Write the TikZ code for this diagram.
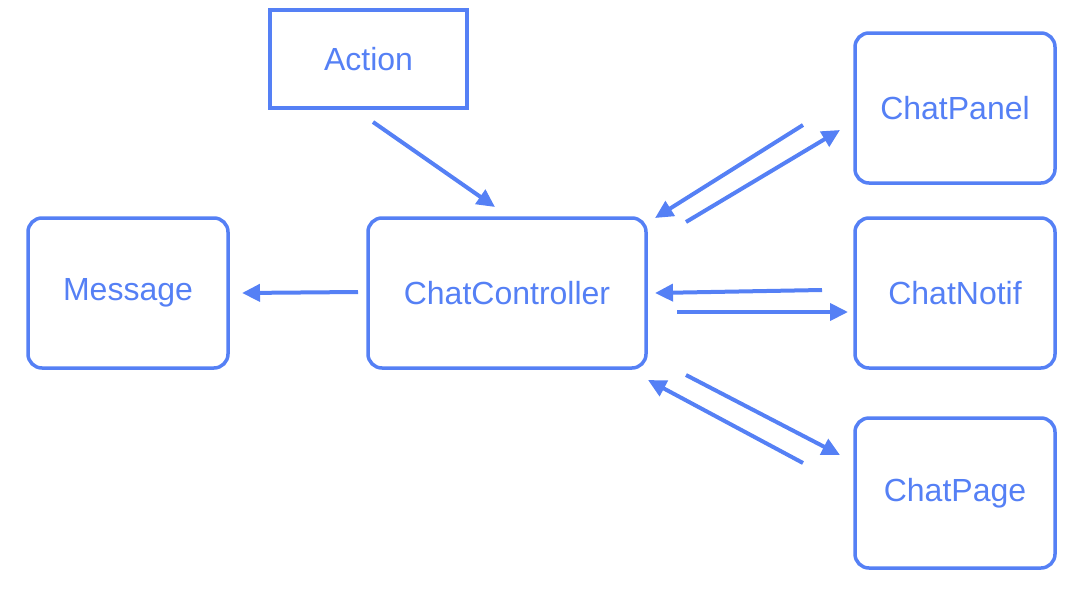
\documentclass[tikz,border=0pt]{standalone}
\usepackage{fontspec}
\setmainfont{Liberation Sans}
\usetikzlibrary{arrows.meta}
\definecolor{bl}{HTML}{5580F5}
\begin{document}
\begin{tikzpicture}[x=1pt,y=-1pt,
  box/.style={draw=bl,line width=3.5pt,rounded corners=14pt,text=bl,font=\fontsize{32}{36}\selectfont,inner sep=0},
  arr/.style={draw=bl,line width=4pt,-{Triangle[length=18pt,width=17pt]}}]
\useasboundingbox (0,0) rectangle (1086,608);
\node[box,rounded corners=0,minimum width=197pt,minimum height=98pt] (act) at (368.5,59) {Action};
\node[box,minimum width=200pt,minimum height=150pt] (msg) at (128,293) {Message};
\node[box,minimum width=278pt,minimum height=150pt] (cc) at (507,293) {ChatController};
\node[box,minimum width=200pt,minimum height=150pt] (cp) at (955,108) {ChatPanel};
\node[box,minimum width=200pt,minimum height=150pt] (cn) at (955,293) {ChatNotif};
\node[box,minimum width=200pt,minimum height=150pt] (cg) at (955,493) {ChatPage};
\coordinate (a1) at (373,122); \coordinate (a2) at (495,207);
\coordinate (m1) at (358,292); \coordinate (m2) at (242,293);
\coordinate (p1) at (803,125); \coordinate (p2) at (655,218);
\coordinate (p3) at (686,222); \coordinate (p4) at (840,130);
\coordinate (n1) at (822,290); \coordinate (n2) at (655,293);
\coordinate (n3) at (677,312); \coordinate (n4) at (848,312);
\coordinate (g1) at (686,375); \coordinate (g2) at (840,455);
\coordinate (g3) at (803,463); \coordinate (g4) at (648,380);
\draw[arr] (a1) -- (a2);
\draw[arr] (m1) -- (m2);
\draw[arr] (p1) -- (p2);
\draw[arr] (p3) -- (p4);
\draw[arr] (n1) -- (n2);
\draw[arr] (n3) -- (n4);
\draw[arr] (g1) -- (g2);
\draw[arr] (g3) -- (g4);
\end{tikzpicture}
\end{document}
